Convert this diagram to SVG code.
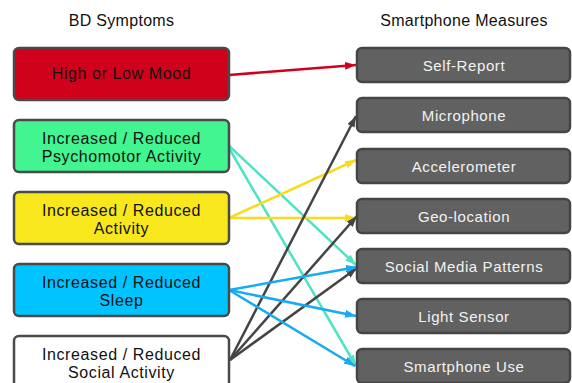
<svg xmlns="http://www.w3.org/2000/svg" width="572" height="383" viewBox="0 0 572 383">
<style>
.title{font-family:"Liberation Sans",Arial,sans-serif;font-size:16px;letter-spacing:0.3px;fill:#111;text-anchor:middle}
.sym rect{stroke:#4a4a4a;stroke-width:2.5}
.sym text{font-family:"Liberation Sans",Arial,sans-serif;font-size:16px;letter-spacing:0.6px;fill:#111;text-anchor:middle}
.mea rect{fill:#616161;stroke:#454545;stroke-width:2.5}
.mea text{font-family:"Liberation Sans",Arial,sans-serif;font-size:15px;letter-spacing:0.6px;fill:#f2f2f2;text-anchor:middle}
#connectors line{stroke-width:2.5;fill:none}
.red{stroke:#d0021b}
.teal{stroke:#50e3c2}
.yel{stroke:#f8dc1c}
.blu{stroke:#18aaf5}
.drk{stroke:#444}
</style>
<defs>
<marker id="aRed" markerUnits="userSpaceOnUse" markerWidth="12" markerHeight="8" refX="11" refY="4" orient="auto"><path d="M0,0 L11,4 L0,8 z" fill="#d0021b"/></marker>
<marker id="aTeal" markerUnits="userSpaceOnUse" markerWidth="12" markerHeight="8" refX="11" refY="4" orient="auto"><path d="M0,0 L11,4 L0,8 z" fill="#50e3c2"/></marker>
<marker id="aYel" markerUnits="userSpaceOnUse" markerWidth="12" markerHeight="8" refX="11" refY="4" orient="auto"><path d="M0,0 L11,4 L0,8 z" fill="#f8dc1c"/></marker>
<marker id="aBlu" markerUnits="userSpaceOnUse" markerWidth="12" markerHeight="8" refX="11" refY="4" orient="auto"><path d="M0,0 L11,4 L0,8 z" fill="#18aaf5"/></marker>
<marker id="aDrk" markerUnits="userSpaceOnUse" markerWidth="12" markerHeight="8" refX="11" refY="4" orient="auto"><path d="M0,0 L11,4 L0,8 z" fill="#444"/></marker>
</defs>
<rect width="572" height="383" fill="#fff"/>
<text class="title" x="121.5" y="26">BD Symptoms</text>
<text class="title" x="464" y="26">Smartphone Measures</text>

<g id="connectors">
<line class="red" x1="229" y1="75" x2="356" y2="65" marker-end="url(#aRed)"/>
<line class="teal" x1="226" y1="143" x2="356" y2="265" marker-end="url(#aTeal)"/>
<line class="teal" x1="226" y1="143" x2="356" y2="366" marker-end="url(#aTeal)"/>
<line class="yel" x1="229" y1="218" x2="356" y2="160" marker-end="url(#aYel)"/>
<line class="yel" x1="229" y1="218" x2="356" y2="218" marker-end="url(#aYel)"/>
<line class="drk" x1="230" y1="360" x2="356" y2="116" marker-end="url(#aDrk)"/>
<line class="drk" x1="230" y1="360" x2="357" y2="216" marker-end="url(#aDrk)"/>
<line class="drk" x1="230" y1="360" x2="357" y2="268" marker-end="url(#aDrk)"/>
<line class="blu" x1="229" y1="290" x2="357" y2="267" marker-end="url(#aBlu)"/>
<line class="blu" x1="229" y1="290" x2="356" y2="316" marker-end="url(#aBlu)"/>
<line class="blu" x1="229" y1="290" x2="355" y2="366" marker-end="url(#aBlu)"/>
</g>

<g id="sym-mood" class="sym"><rect x="14" y="48" width="215" height="52" rx="5" fill="#d0021b"/><text x="121.5" y="79">High or Low Mood</text></g>
<g id="sym-psycho" class="sym"><rect x="14" y="120" width="215" height="52" rx="5" fill="#42f590"/><text x="121.5" y="144">Increased / Reduced</text><text x="121.5" y="162">Psychomotor Activity</text></g>
<g id="sym-activity" class="sym"><rect x="14" y="192" width="215" height="52" rx="5" fill="#f8e71c"/><text x="121.5" y="216">Increased / Reduced</text><text x="121.5" y="234">Activity</text></g>
<g id="sym-sleep" class="sym"><rect x="14" y="264" width="215" height="52" rx="5" fill="#00c4ff"/><text x="121.5" y="288">Increased / Reduced</text><text x="121.5" y="306">Sleep</text></g>
<g id="sym-social" class="sym"><rect x="14" y="336" width="215" height="52" rx="5" fill="#fff"/><text x="121.5" y="360">Increased / Reduced</text><text x="121.5" y="378">Social Activity</text></g>

<g id="m-self" class="mea"><rect x="357" y="48" width="213" height="34" rx="5"/><text x="464" y="71">Self-Report</text></g>
<g id="m-mic" class="mea"><rect x="357" y="98" width="213" height="34" rx="5"/><text x="464" y="121">Microphone</text></g>
<g id="m-acc" class="mea"><rect x="357" y="149" width="213" height="34" rx="5"/><text x="464" y="172">Accelerometer</text></g>
<g id="m-geo" class="mea"><rect x="357" y="199" width="213" height="34" rx="5"/><text x="464" y="222">Geo-location</text></g>
<g id="m-smp" class="mea"><rect x="357" y="249" width="213" height="34" rx="5"/><text x="464" y="272">Social Media Patterns</text></g>
<g id="m-light" class="mea"><rect x="357" y="299" width="213" height="34" rx="5"/><text x="464" y="322">Light Sensor</text></g>
<g id="m-use" class="mea"><rect x="357" y="349" width="213" height="34" rx="5"/><text x="464" y="372">Smartphone Use</text></g>
</svg>
